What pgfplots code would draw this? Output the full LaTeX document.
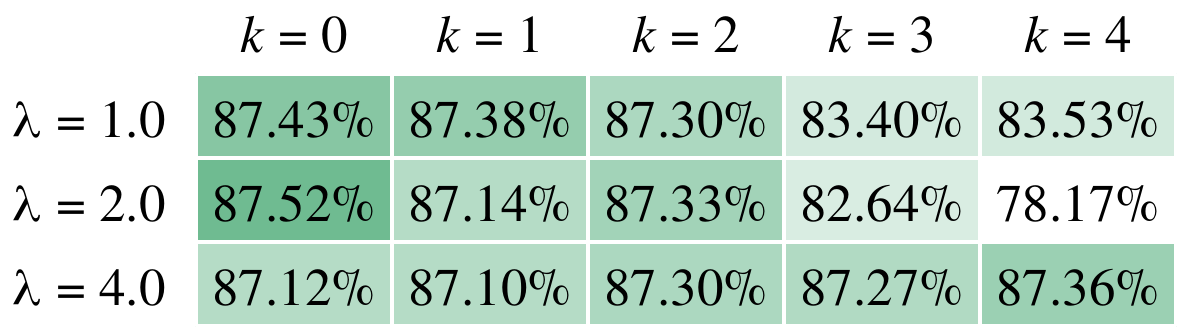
\documentclass[border=0pt]{standalone}
\usepackage{pgfplots}
\pgfplotsset{compat=1.18}
\usepackage{pgfplotstable}
\usepackage{fontspec}
\setmainfont{texgyretermes}[Extension=.otf,UprightFont=*-regular,ItalicFont=*-italic,BoldFont=*-bold,BoldItalicFont=*-bolditalic]
\newcommand{\cellfont}{\fontsize{26.5}{30}\selectfont}

\pgfplotstableread{
x y v s
0 0 87.43 0.83
1 0 87.38 0.73
2 0 87.30 0.57
3 0 83.40 0.30
4 0 83.53 0.31
0 1 87.52 1.00
1 1 87.14 0.51
2 1 87.33 0.64
3 1 82.64 0.26
4 1 78.17 0.00
0 2 87.12 0.51
1 2 87.10 0.51
2 2 87.30 0.57
3 2 87.27 0.54
4 2 87.36 0.69
}\heat

\begin{document}
\begin{tikzpicture}
\useasboundingbox (0,0) rectangle (589pt,164pt);
\begin{axis}[
  at={(98pt,1pt)}, anchor=south west,
  width=490pt, height=126pt, scale only axis,
  xmin=-0.5, xmax=4.5, ymin=-0.5, ymax=2.5,
  enlargelimits=false,
  y dir=reverse,
  axis line style={draw=none},
  colormap={greens}{rgb255=(255,255,255) rgb255=(111,187,145)},
  point meta min=0, point meta max=1,
  xtick={0,1,2,3,4},
  xticklabels={\textit{k} = 0,\textit{k} = 1,\textit{k} = 2,\textit{k} = 3,\textit{k} = 4},
  ytick={0,1,2},
  yticklabels={λ = 1.0,λ = 2.0,λ = 4.0},
  xticklabel pos=upper,
  major tick length=0pt, minor tick length=0pt,
  minor xtick={-0.5,0.5,1.5,2.5,3.5,4.5},
  minor ytick={-0.5,0.5,1.5,2.5},
  xminorgrids=true, yminorgrids=true,
  minor grid style={white, line width=2pt},
  axis on top,
  xticklabel style={font=\cellfont, anchor=base, inner sep=0pt, yshift=11pt},
  yticklabel style={font=\cellfont, anchor=base east, inner sep=0pt, xshift=-15pt, yshift=-10.5pt},
  clip=false,
]
\addplot[matrix plot*, mesh/cols=5, point meta=explicit] table[x=x, y=y, meta=s] {\heat};
\addplot[only marks, mark=none, point meta=explicit symbolic,
  nodes near coords={\pgfplotspointmeta\%},
  nodes near coords align=center,
  every node near coord/.append style={font=\cellfont, anchor=base, inner sep=0pt, yshift=-10.5pt}]
  table[x=x, y=y, meta=v] {\heat};
\end{axis}
\end{tikzpicture}
\end{document}
